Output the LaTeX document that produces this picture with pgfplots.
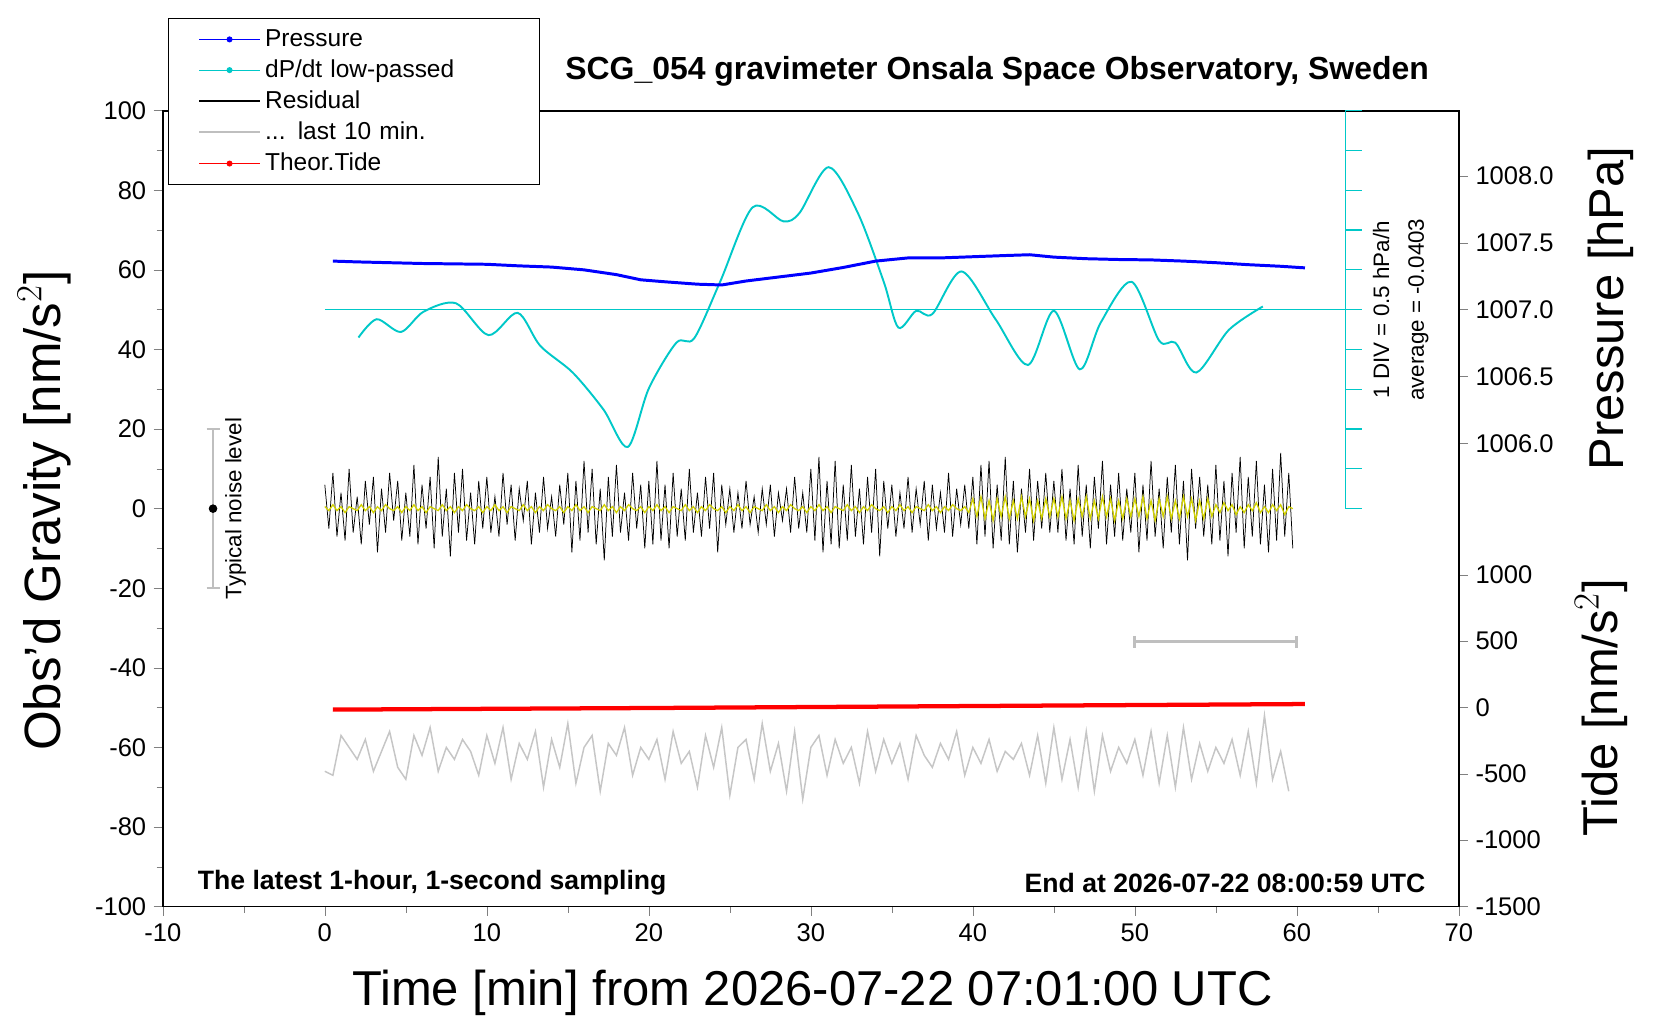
\documentclass[border=0pt]{standalone}
\usepackage{pgfplots}
\pgfplotsset{compat=1.18}
\usepackage{pgfplotstable}
\usepackage{fontspec}
\setmainfont{Liberation Sans}
\definecolor{dpcol}{RGB}{0,200,200}
\definecolor{ycol}{RGB}{210,210,0}
\pgfplotstableread{
y
6 
-5 
9 
-7 
4 
-8 
10 
-6 
3 
-9 
7 
-4 
8 
-11 
5 
-6 
9 
-3 
7 
-8
4 
-7 
11 
-9 
6 
-5 
8 
-10 
13 
-7 
5 
-12 
9 
-6 
10 
-8 
4 
-9 
7 
-5
8 
-6 
3 
-7 
9 
-4 
6 
-8 
5 
-3 
7 
-9 
4 
-6 
8 
-5 
3 
-7 
6 
-4
9 
-11 
7 
-8 
12 
-6 
10 
-9 
5 
-13 
8 
-7 
11 
-6 
4 
-8 
9 
-5 
6 
-10
7 
-9 
12 
-8 
6 
-10 
9 
-7 
5 
-8 
10 
-6 
4 
-7 
8 
-5 
9 
-11 
6 
-4
5 
-6 
4 
-5 
7 
-4 
3 
-6 
5 
-4 
6 
-7 
4 
-3 
5 
-6 
8 
-5 
4 
-6
10 
-8 
13 
-11 
7 
-9 
12 
-10 
6 
-8 
11 
-7 
5 
-9 
8 
-6 
10 
-12 
7 
-5
6 
-7 
4 
-5 
8 
-6 
5 
-4 
7 
-8 
6 
-5 
4 
-6 
9 
-7 
5 
-4 
6 
-5
8 
-9 
11 
-7 
12 
-10 
6 
-8 
13 
-9 
7 
-11 
5 
-6 
10 
-8 
7 
-5 
9 
-6
7 
-6 
10 
-8 
5 
-9 
11 
-7 
6 
-10 
8 
-5 
12 
-9 
6 
-7 
9 
-8 
5 
-6
9 
-11 
6 
-8 
12 
-7 
5 
-10 
8 
-6 
11 
-9 
7 
-13 
10 
-5 
8 
-7 
6 
-9
11 
-8 
7 
-12 
9 
-6 
13 
-10 
8 
-7 
12 
-9 
6 
-11 
10 
-8 
14 
-7 
9 
-10
}\resid
\pgfplotstableread{
y
0.5
-0.5
1
-0.5
0.5
-1
0.5
0
-0.5
1
-0.5
0.5
-1
0.5
-0.5
1
0
-0.5
0.5
-1
0.5
-0.5
1
-0.5
0.5
-1
0.5
0
-0.5
1
-0.5
0.5
-1
0.5
-0.5
1
0
-0.5
0.5
-1
0.5
-0.5
1
-0.5
0.5
-1
0.5
0
-0.5
1
-0.5
0.5
-1
0.5
-0.5
1
0
-0.5
0.5
-1
0.5
-0.5
1
-0.5
0.5
-1
0.5
0
-0.5
1
-0.5
0.5
-1
0.5
-0.5
1
0
-0.5
0.5
-1
0.5
-0.5
1
-0.5
0.5
-1
0.5
0
-0.5
1
-0.5
0.5
-1
0.5
-0.5
1
0
-0.5
0.5
-1
0.5
-0.5
1
-0.5
0.5
-1
0.5
0
-0.5
1
-0.5
0.5
-1
0.5
-0.5
1
0
-0.5
0.5
-1
0.5
-0.5
1
-0.5
0.5
-1
0.5
0
-0.5
1
-0.5
0.5
-1
0.5
-0.5
1
0
-0.5
0.5
-1
0.5
-0.5
1
-0.5
0.5
-1
0.5
0
-0.5
1
-0.5
0.5
-1
0.5
-0.5
1
0
-0.5
0.5
-1
2.5
-2
3
-2.5
2
-3
2.5
-2
3
-2.5
2
-2.5
3
-2
2.5
-3
2
-2.5
2.5
-2
2.5
-2
3
-2.5
2
-3
2.5
-2
3
-2.5
2
-2.5
3
-2
2.5
-3
2
-2.5
2.5
-2
2.5
-2
3
-2.5
2
-3
2.5
-2
3
-2.5
2
-2.5
3
-2
2.5
-3
2
-2.5
2.5
-2
1
-1
1.5
-0.5
1
-1.5
0.5
-1
1
-0.5
1.5
-1
0.5
-1
1
-0.5
1
-1.5
0.5
0
}\yel
\pgfplotstableread{
y
-66
-67
-57
-60
-63
-58
-66
-61
-56
-65
-68
-57
-62
-55
-66
-60
-63
-58
-61
-67
-57
-64
-55
-68
-59
-63
-56
-70
-58
-65
-54
-69
-60
-57
-71
-59
-62
-55
-67
-60
-63
-58
-68
-56
-64
-61
-70
-57
-65
-55
-72
-60
-58
-68
-54
-66
-59
-71
-56
-73
-60
-57
-67
-58
-64
-60
-69
-56
-66
-58
-64
-59
-68
-57
-62
-65
-59
-63
-56
-67
-60
-64
-58
-66
-61
-63
-59
-67
-57
-69
-55
-68
-58
-70
-56
-71
-57
-66
-60
-64
-58
-67
-56
-69
-57
-70
-55
-68
-59
-66
-60
-64
-58
-67
-56
-69
-52
-68
-61
-71
}\grey
\begin{document}
\begin{tikzpicture}
\begin{axis}[
  scale only axis, width=609pt, height=374pt,
  xmin=-10, xmax=70, ymin=-100, ymax=100,
  xtick distance=10, ytick distance=20, minor tick num=1,
  xtick pos=bottom, ytick pos=left, tick align=outside,
  tick label style={font=\fontsize{12}{14}\selectfont},
  /pgf/number format/assume math mode=true,
  clip=false, axis line style={line width=0.8pt},
  legend style={at={(0.004,1.116)}, anchor=north west, draw=black,
    font=\fontsize{11.5}{13}\selectfont, cells={anchor=west, text width=113pt, align=left}, row sep=0.8pt,
    legend cell align=left, inner ysep=3pt, inner xsep=14pt},
  legend image code/.code={\draw[mark repeat=2,mark phase=2,#1] plot coordinates {(0cm,0cm) (0.5cm,0cm) (1cm,0cm)};},
]
\addlegendimage{blue, mark=*, mark size=1.2pt, line width=0.4pt}
\addlegendentry{Pressure}
\addlegendimage{dpcol, mark=*, mark size=1.2pt, line width=0.4pt}
\addlegendentry{dP/dt low-passed}
\addlegendimage{black, line width=0.8pt}
\addlegendentry{Residual}
\addlegendimage{gray!50, line width=1pt}
\addlegendentry{... last 10 min.}
\addlegendimage{red, mark=*, mark size=1.2pt, line width=0.4pt}
\addlegendentry{Theor.Tide}
% dP/dt axis
\draw[dpcol, line width=0.6pt] (axis cs:63,0) -- (axis cs:63,100);
\pgfplotsinvokeforeach{0,10,20,30,40,50,60,70,80,90,100}{\draw[dpcol,line width=0.6pt] (axis cs:63,#1) -- (axis cs:64,#1);}
\draw[dpcol, line width=0.6pt] (axis cs:0,50) -- (axis cs:64,50);
\node[rotate=90, font=\fontsize{10.5}{12}\selectfont] at (axis cs:65.2,50) {1 DIV = 0.5 hPa/h};
\node[rotate=90, font=\fontsize{10.5}{12}\selectfont] at (axis cs:67.5,50) {average = -0.0403};
% noise
\draw[gray!50, line width=1pt] (axis cs:-6.9,-20) -- (axis cs:-6.9,20);
\draw[gray!50, line width=1pt] (axis cs:-7.3,-20) -- (axis cs:-6.5,-20) (axis cs:-7.3,20) -- (axis cs:-6.5,20);
\addplot[black, only marks, mark=*, mark size=1.8pt, forget plot] coordinates {(-6.9,0)};
\node[rotate=90, font=\fontsize{10.5}{12}\selectfont] at (axis cs:-5.5,0) {Typical noise level};
% grey bar
\draw[gray!50, line width=1.5pt] (axis cs:50,-33.4) -- (axis cs:60,-33.4);
\draw[gray!50, line width=1.5pt] (axis cs:50,-32) -- (axis cs:50,-35) (axis cs:60,-32) -- (axis cs:60,-35);
% data
\addplot[gray!45, line width=0.7pt, forget plot] table[x expr=\coordindex*0.5, y=y] {\grey};
\addplot[red, line width=2pt, forget plot] coordinates {(0.5,-50.5) (20,-50.1) (40,-49.6) (60.5,-49.1)};
\addplot[black, line width=0.35pt, forget plot] table[x expr=\coordindex*0.25, y=y] {\resid};
\addplot[ycol, line width=0.6pt, forget plot] table[x expr=\coordindex*0.25, y=y] {\yel};
\addplot[dpcol, line width=0.9pt, smooth, forget plot] coordinates {
(2.08,43.0) (3.2,47.6) (4.7,44.4) (6.1,49.5) (8.1,51.6) (10.1,43.6) (11.9,49.2) (13.3,40.9)
(15.3,34.2) (17.2,24.9) (18.7,15.5) (20.0,30.2) (21.7,41.7) (22.8,42.8) (24.4,57.0) (26.4,75.7)
(28.3,72.2) (29.3,74.3) (31.1,85.8) (32.9,74.3) (34.5,57.0) (35.4,45.5) (36.5,49.7) (37.5,48.9)
(39.3,59.6) (41.4,47.6) (43.4,36.1) (45.0,49.7) (46.6,35.0) (47.9,46.8) (49.8,57.0) (51.5,42.2)
(52.5,41.7) (53.8,34.2) (55.8,44.9) (57.9,50.8)};
\addplot[blue, line width=1.4pt, forget plot] coordinates {
(0.5,62.2) (2,62.0) (4,61.8) (6,61.6) (8,61.5) (10,61.4) (12,61.0) (14,60.7) (16,60.0) (18,58.8)
(19.5,57.5) (21,57.0) (23,56.4) (24.5,56.2) (26,57.2) (28,58.2) (30,59.2) (32,60.6) (34,62.2)
(36,63.0) (38,63.0) (40,63.3) (42,63.6) (43.5,63.8) (45,63.2) (47,62.8) (49,62.6) (51,62.5)
(53,62.2) (55,61.8) (57,61.3) (59,60.9) (60.5,60.5)};
% texts
\node[font=\bfseries\fontsize{15}{17}\selectfont] at (axis cs:41.5,110) {SCG\_054 gravimeter Onsala Space Observatory, Sweden};
\node[font=\bfseries\fontsize{12.5}{14}\selectfont, anchor=west] at (axis cs:-8.3,-94.1) {The latest 1-hour, 1-second sampling};
\node[font=\bfseries\fontsize{12.5}{14}\selectfont, anchor=east] at (axis cs:68.4,-94.1) {End at 2026-07-22 08:00:59 UTC};
\node[rotate=90, font=\fontsize{24}{28}\selectfont] at (axis cs:-17.3,-0.5) {Obs'd Gravity [nm/s$^2$]};
\node[font=\fontsize{23}{28}\selectfont] at (axis cs:30.1,-121.7) {Time [min] from 2026-07-22 07:01:00 UTC};
\node[rotate=90, font=\fontsize{23}{28}\selectfont] at (axis cs:79.4,50.3) {Pressure [hPa]};
\node[rotate=90, font=\fontsize{23}{28}\selectfont] at (axis cs:78.8,-50) {Tide [nm/s$^2$]};
\end{axis}
\begin{axis}[
  scale only axis, width=609pt, height=374pt,
  xmin=-10, xmax=70, ymin=-100, ymax=100,
  axis x line=none, axis y line*=right, tick align=outside,
  axis line style={line width=0.8pt},
  ytick={16.4,33.2,50,66.8,83.6,-100,-83.3,-66.7,-50,-33.3,-16.7},
  yticklabels={1006.0,1006.5,1007.0,1007.5,1008.0,-1500,-1000,-500,0,500,1000},
  tick label style={font=\fontsize{12}{14}\selectfont},
]
\end{axis}
\path (-76.5pt,-54pt) rectangle ++(780pt,480pt);
\end{tikzpicture}
\end{document}
